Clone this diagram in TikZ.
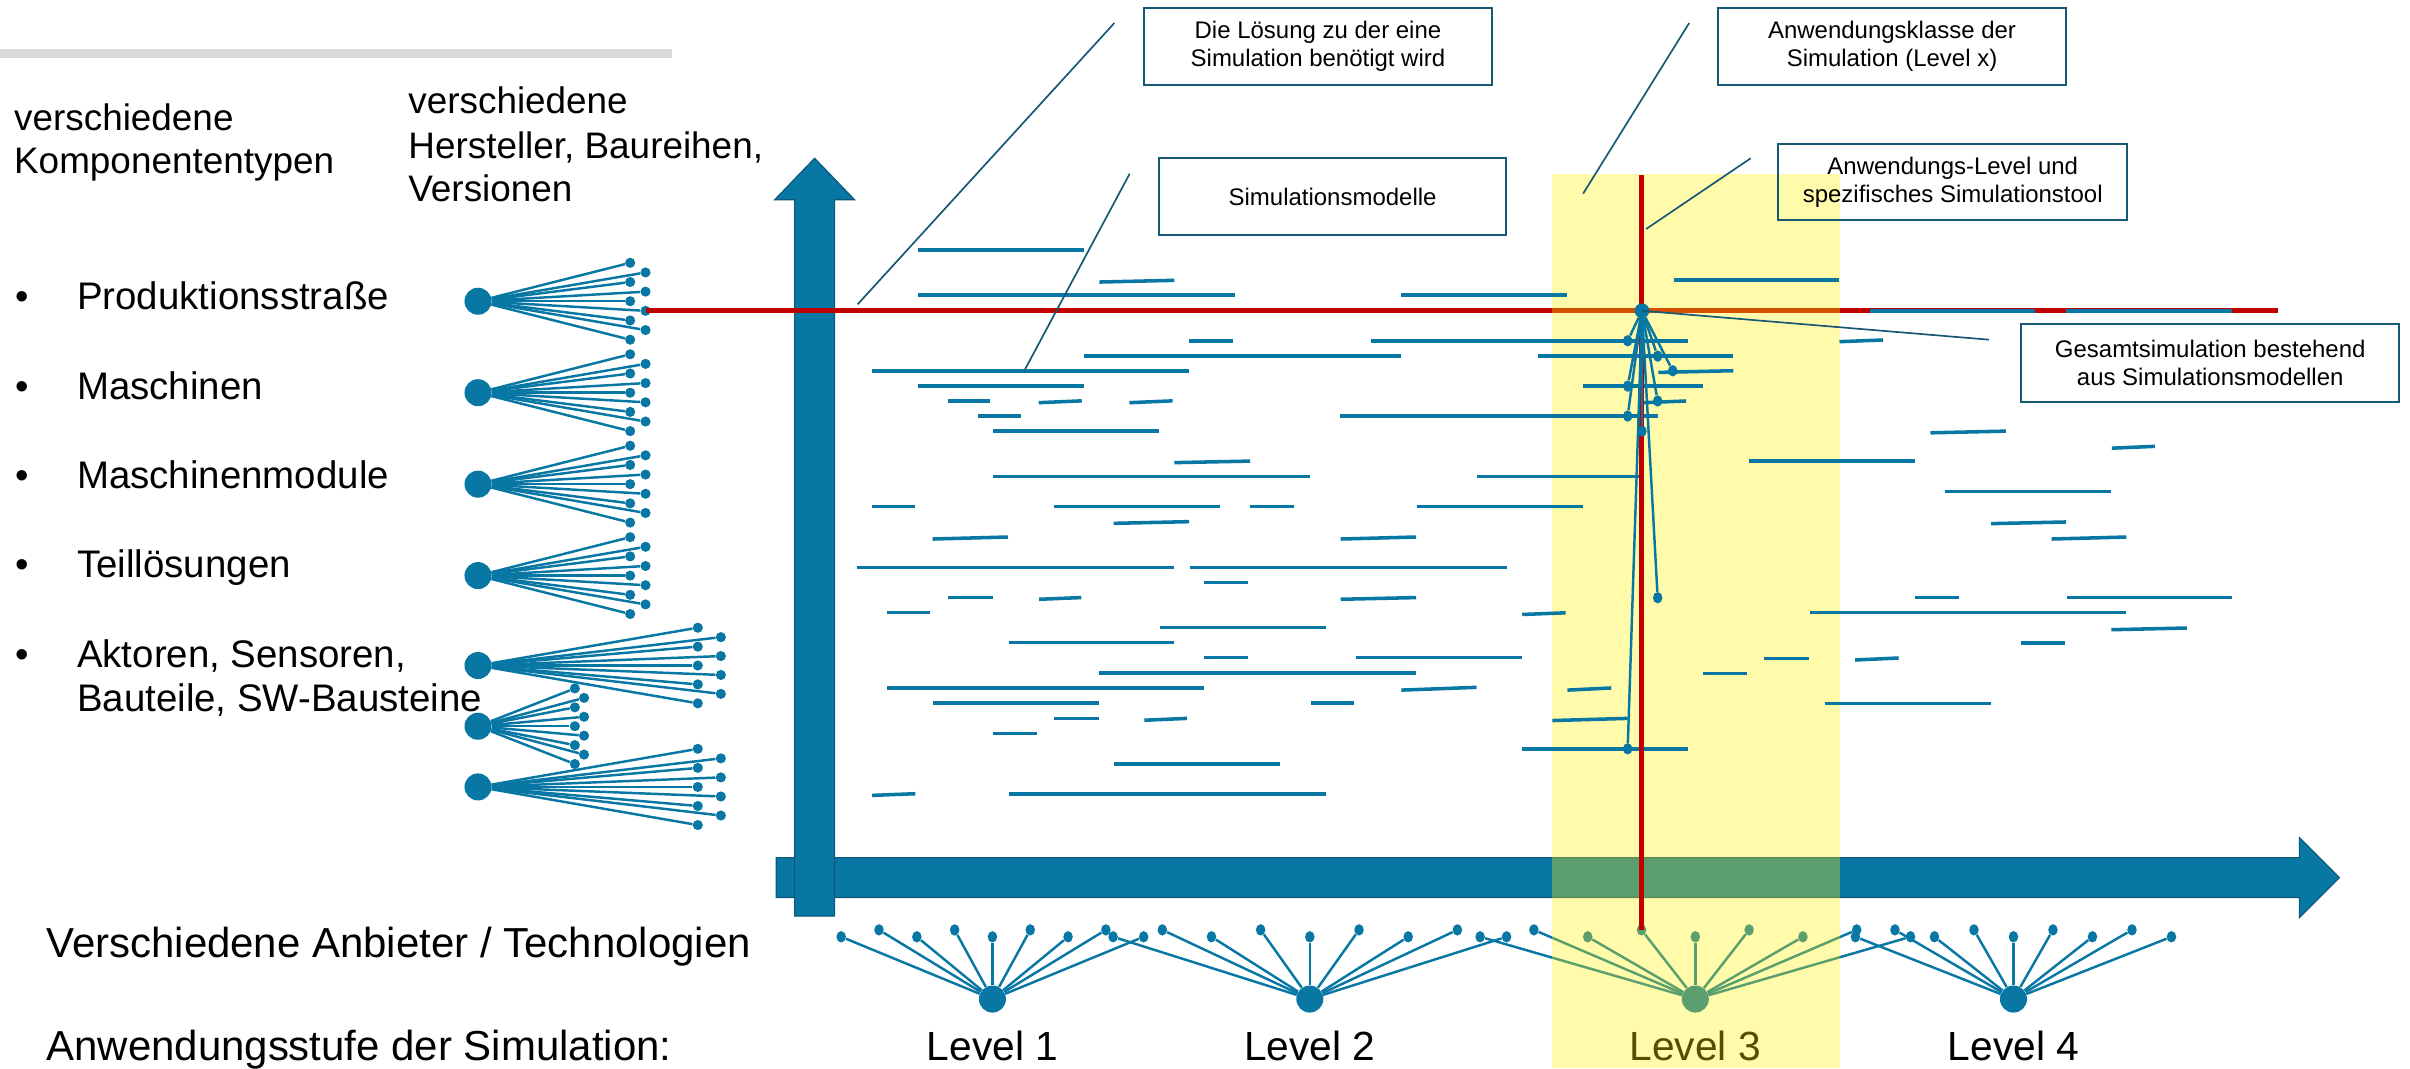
\documentclass[tikz,border=0pt]{standalone}
\usepackage{fontspec}
\setmainfont{Liberation Sans}
\usetikzlibrary{shapes.geometric}

\definecolor{simblue}{RGB}{9,119,164}
\definecolor{arrowedge}{RGB}{12,88,120}
\definecolor{simred}{RGB}{192,0,0}
\definecolor{boxedge}{RGB}{23,88,117}
\definecolor{bargray}{RGB}{217,217,217}

\newcommand\fHead{\fontsize{24}{28.6}\selectfont}
\newcommand\fBullet{\fontsize{25}{29}\selectfont}
\newcommand\fBottom{\fontsize{27.3}{32}\selectfont}
\newcommand\fLevel{\fontsize{26.5}{31}\selectfont}
\newcommand\fBox{\fontsize{15.6}{18}\selectfont}

\tikzset{
  hub/.style={circle, fill=simblue, inner sep=0pt, minimum size=17.6pt},
  smallhub/.style={circle, fill=simblue, inner sep=0pt, minimum size=9.6pt},
  leaf/.style={circle, fill=simblue, inner sep=0pt, minimum size=6.6pt},
  bleaf/.style={ellipse, fill=simblue, inner sep=0pt, minimum width=6.2pt, minimum height=7.4pt},
  spoke/.style={simblue, line width=1.6pt},
  model/.style={simblue, line width=2.3pt},
  redline/.style={simred, line width=3.4pt},
  callout/.style={boxedge, line width=1.1pt},
  infobox/.style={draw=boxedge, line width=1.3pt, inner sep=0pt, align=center, font=\fBox},
  txt/.style={inner sep=0pt, anchor=base west},
  bigarrow/.style={fill=simblue, draw=arrowedge, line width=0.8pt},
}

\begin{document}
\begin{tikzpicture}[x=1pt, y=-1pt]
\useasboundingbox (0,0) rectangle (1568,695);

% header bar
\fill[bargray] (0,32) rectangle (437,38);

% headings
\node[txt, font=\fHead] (hk1) at (9,84.6) {verschiedene};
\node[txt, font=\fHead] (hk2) at (9,112.8) {Komponententypen};
\node[txt, font=\fHead] (hh1) at (265.5,73.7) {verschiedene};
\node[txt, font=\fHead] (hh2) at (265.5,103) {Hersteller, Baureihen,};
\node[txt, font=\fHead] (hh3) at (265.5,131.2) {Versionen};

% component list
\foreach \n/\y/\t in {1/201.5/Produktionsstraße, 2/259.7/Maschinen, 3/318/Maschinenmodule,
                      4/376/Teillösungen, 5/434/{Aktoren, Sensoren,}} {
  \node[inner sep=0pt, anchor=base, font=\fBullet] (bul\n) at (14.2,\y) {•};
  \node[txt, font=\fBullet] (item\n) at (50,\y) {\t};
}
\node[txt, font=\fBullet] (item6) at (50,463) {Bauteile, SW-Bausteine};

% bottom texts
\node[txt, font=\fBottom] (anb) at (30,623) {Verschiedene Anbieter / Technologien};
\node[txt, font=\fBottom] (stufe) at (30,690) {Anwendungsstufe der Simulation:};

% axes
\draw[bigarrow] (505,558) -- (1496,558) -- (1496,545) -- (1522,571) -- (1496,597)
  -- (1496,584) -- (505,584) -- cycle;
\draw[bigarrow] (517,596) -- (517,130) -- (504,130) -- (530,103) -- (556,130)
  -- (543,130) -- (543,596) -- cycle;

% component fans (types, manufacturers)
\foreach \n/\y/\xi/\xo/\s in {1/196/410/420/6.25, 2/255.5/410/420/6.25, 3/315/410/420/6.25,
    4/374.5/410/420/6.25, 5/433/454/469/6.15, 6/472.5/374/380/6.15, 7/512/454/469/6.2} {
  \node[hub] (lf\n) at (311,\y) {};
  \foreach \k in {0,...,8} {
    \pgfmathsetmacro\lx{ifthenelse(mod(\k,2)==1,\xo,\xi)}
    \pgfmathsetmacro\ly{\y+(\k-4)*\s}
    \node[leaf] (lf\n-\k) at (\lx,\ly) {};
    \draw[spoke] (lf\n) -- (lf\n-\k);
  }
}

% red solution line
\coordinate (redend) at (1482,202.25);
\draw[redline] (lf1-5.center) -- (redend);

% level fans (providers / technologies)
\foreach \n/\hx/\s in {1/645.7/24.6, 2/852.2/32, 3/1103/35, 4/1310/25.7} {
  \node[hub] (bf\n) at (\hx,650) {};
  \foreach \k in {0,...,8} {
    \pgfmathsetmacro\lx{\hx+(\k-4)*\s}
    \pgfmathsetmacro\ly{ifthenelse(mod(\k,2)==1,605,609.5)}
    \node[bleaf] (bf\n-\k) at (\lx,\ly) {};
    \draw[spoke] (bf\n) -- (bf\n-\k);
  }
  \node[inner sep=0pt, anchor=base, font=\fLevel] (lv\n) at (\hx,689.7) {Level \n};
}

% highlighted application class
\fill[yellow, opacity=0.33] (1010,113) rectangle (1197,695);

% simulation models
\foreach \xa/\ya/\xb/\yb in {
  597.3/162.6/705.2/162.6, 715.3/183.5/764/182.4, 1089.2/182.2/1196.8/182.2,
  597/192.1/803.2/192.1, 911.6/192.1/1019.6/192.1, 1216.8/202.2/1324/202.2,
  1344/202.2/1452.4/202.2, 773.8/221.7/802/221.7, 892/221.7/1098.3/221.7,
  1196.8/222.3/1225.1/221.2, 705.3/231.5/911.3/231.5, 1000.4/231.7/1127.7/231.7,
  567.4/241.3/773.8/241.3, 1078.9/242.3/1127.7/241.2, 597.1/251/705.2/251,
  1029.7/251.1/1108.1/251.1, 616.6/260.9/644.4/260.9, 675.8/262/703.8/260.8,
  734.8/262/762.9/260.8, 1069.2/262/1097/260.9, 636.5/270.6/664.5/270.6,
  872.1/270.6/1078.5/270.6, 646.2/280.4/754.1/280.4, 1256/281.6/1305/280.5,
  1374/291.6/1402/290.4, 764/301/813.4/300, 1137.9/300.1/1246/300.1,
  646.2/310.1/852.4/310.1, 961.1/310.1/1068.8/310.1, 1265.5/319.9/1373.7/319.9,
  567.4/329.6/595.6/329.6, 685.6/329.6/793.5/329.6, 813.4/329.6/841.6/329.6,
  921.7/329.6/1029.7/329.6, 724.6/340.5/773.6/339.4, 1295.4/340.7/1344.2/339.6,
  606.8/350.7/655.8/349.4, 872.3/350.7/921.3/349.4, 1334.8/350.7/1383.5/349.4,
  557.4/369.1/764/369.1, 774/369.1/980.2/369.1, 783.5/378.9/811.8/378.9,
  616.8/388.8/645.8/388.8, 676.1/389.9/703.5/388.8, 872.3/389.9/921.3/388.8,
  1246/388.8/1274.3/388.8, 1344.5/388.8/1452.4/388.8, 577.3/398.6/605.1/398.6,
  990.4/399.8/1018.6/398.7, 1177.5/398.6/1383.5/398.6, 754.5/408.4/862.4/408.4,
  1373.7/409.7/1422.8/408.6, 656.2/418.1/763.6/418.1, 1315/418.3/1343.2/418.3,
  783.5/427.9/811.8/427.9, 882.3/427.9/990.2/427.9, 1147.6/428.3/1177.1/428.3,
  1207/429.4/1235.3/428.1, 715.1/437.9/921.3/437.9, 1108.2/438.1/1136.6/438.1,
  577.3/447.6/783.5/447.6, 911.7/449/960.7/447.2, 1019.8/449/1048.3/447.6,
  606.8/457.4/714.7/457.4, 852.8/457.4/881.1/457.4, 1187.2/457.6/1295.4/457.6,
  685.6/467.6/714.7/467.6, 744.5/468.6/772.3/467.4, 1010/468.8/1059/467.4,
  646.2/477.3/674.4/477.3, 990.3/487.2/1098.2/487.2, 724.6/496.9/832.9/496.9,
  567.4/517.5/595.6/516.4, 656.2/516.6/862.4/516.6} {
  \draw[model] (\xa,\ya) -- (\xb,\yb);
}

% application level line
\coordinate (redtop) at (1068,114);
\draw[redline] (redtop) -- (bf3-3.center);

% overall simulation built from models
\node[smallhub] (cf) at (1068.3,202.2) {};
\foreach \i/\x/\y in {1/1059/221.7, 2/1078.5/231.7, 3/1088.3/241.2, 4/1059/251.2,
    5/1078.5/260.9, 6/1059/270.7, 7/1068.3/280.5, 8/1078.5/388.9, 9/1059/487.2} {
  \node[bleaf] (cf-\i) at (\x,\y) {};
  \draw[spoke] (cf) -- (cf-\i);
}

% explanation boxes
\node[infobox, minimum width=227pt, minimum height=50pt] (b1) at (857.5,30)
  {Die Lösung zu der eine\\Simulation benötigt wird};
\node[infobox, minimum width=226pt, minimum height=50pt] (b2) at (1231,30)
  {Anwendungsklasse der\\Simulation (Level x)};
\node[infobox, minimum width=226pt, minimum height=50pt] (b3) at (867,128)
  {Simulationsmodelle};
\node[infobox, minimum width=227pt, minimum height=49pt] (b4) at (1270.5,118.5)
  {Anwendungs-Level und\\spezifisches Simulationstool};
\node[infobox, minimum width=246pt, minimum height=51pt] (b5) at (1438,236)
  {Gesamtsimulation bestehend\\aus Simulationsmodellen};

% callout lines
\coordinate (c1a) at (725,15);    \coordinate (c1b) at (558,198);
\coordinate (c2a) at (735,113);   \coordinate (c2b) at (666,242);
\coordinate (c3a) at (1099,15);   \coordinate (c3b) at (1030,126);
\coordinate (c4a) at (1139,103);  \coordinate (c4b) at (1071,149);
\coordinate (c5a) at (1294,221);
\draw[callout] (c1a) -- (c1b);
\draw[callout] (c2a) -- (c2b);
\draw[callout] (c3a) -- (c3b);
\draw[callout] (c4a) -- (c4b);
\draw[callout] (cf.center) -- (c5a);
\end{tikzpicture}
\end{document}
